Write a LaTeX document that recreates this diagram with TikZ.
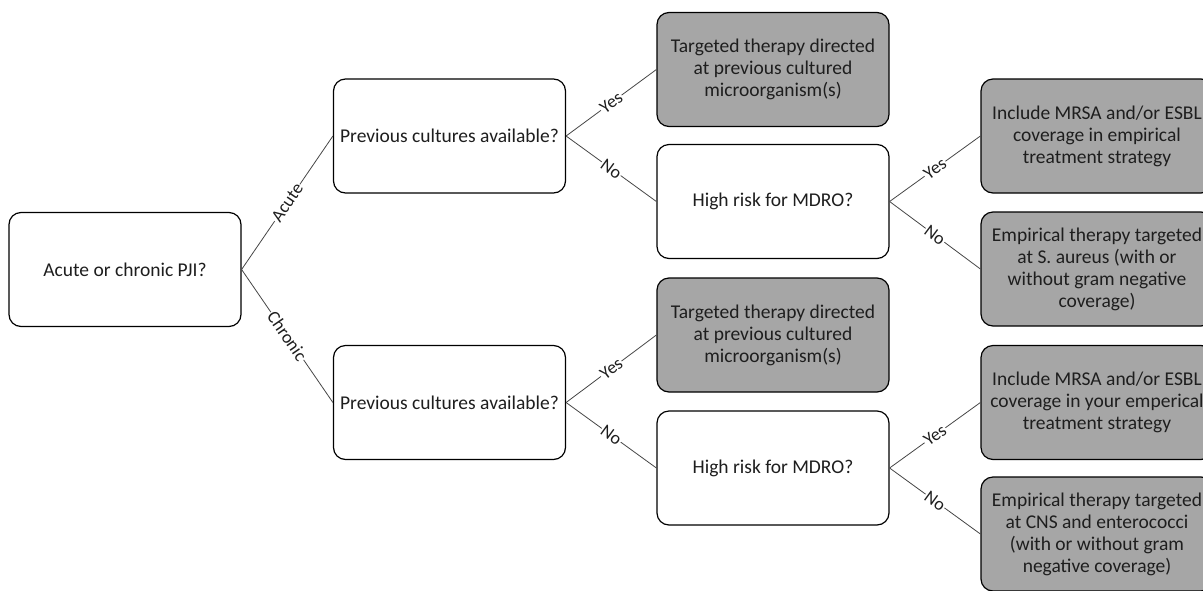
\documentclass[tikz,border=0pt]{standalone}
\usepackage{fontspec}
\setmainfont{Carlito}
\definecolor{boxgray}{RGB}{166,166,166}
\definecolor{txt}{RGB}{30,30,30}
\definecolor{linegray}{RGB}{70,70,70}
\tikzset{
  qbox/.style={draw=black, line width=1.2pt, rounded corners=12pt, fill=white,
    minimum width=232pt, minimum height=114pt, align=center, text=txt,
    font=\fontsize{19.5}{22}\selectfont, inner sep=2pt},
  abox/.style={qbox, fill=boxgray},
  conn/.style={draw=linegray, line width=0.8pt},
  lbl/.style={sloped, fill=white, inner sep=1pt, text=txt, font=\fontsize{18}{20}\selectfont}
}
\begin{document}
\begin{tikzpicture}[x=1pt, y=-1pt]
\useasboundingbox (0,0) rectangle (1203,590);
\clip (0,0) rectangle (1203,590);
\node[qbox] (root) at (125,269.5) {Acute or chronic PJI?};
\node[qbox] (q1) at (449.5,136) {Previous cultures available?};
\node[qbox] (q2) at (449.5,402.5) {Previous cultures available?};
\node[abox] (t1) at (773,69.5) {Targeted therapy directed\\at previous cultured\\microorganism(s)};
\node[qbox] (h1) at (773,201.5) {High risk for MDRO?};
\node[abox] (t2) at (773,335) {Targeted therapy directed\\at previous cultured\\microorganism(s)};
\node[qbox] (h2) at (773,468) {High risk for MDRO?};
\node[abox] (r1) at (1097,136) {Include MRSA and/or ESBL\\coverage in empirical\\treatment strategy};
\node[abox] (r2) at (1097,269) {Empirical therapy targeted\\at S. aureus (with or\\without gram negative\\coverage)};
\node[abox] (r3) at (1097,402.5) {Include MRSA and/or ESBL\\coverage in your emperical\\treatment strategy};
\node[abox] (r4) at (1097,534) {Empirical therapy targeted\\at CNS and enterococci\\(with or without gram\\negative coverage)};
\draw[conn] (root.east) -- node[lbl] {Acute} (q1.west);
\draw[conn] (root.east) -- node[lbl] {Chronic} (q2.west);
\draw[conn] (q1.east) -- node[lbl] {Yes} (t1.west);
\draw[conn] (q1.east) -- node[lbl] {No} (h1.west);
\draw[conn] (q2.east) -- node[lbl] {Yes} (t2.west);
\draw[conn] (q2.east) -- node[lbl] {No} (h2.west);
\draw[conn] (h1.east) -- node[lbl] {Yes} (r1.west);
\draw[conn] (h1.east) -- node[lbl] {No} (r2.west);
\draw[conn] (h2.east) -- node[lbl] {Yes} (r3.west);
\draw[conn] (h2.east) -- node[lbl] {No} (r4.west);
\end{tikzpicture}
\end{document}
